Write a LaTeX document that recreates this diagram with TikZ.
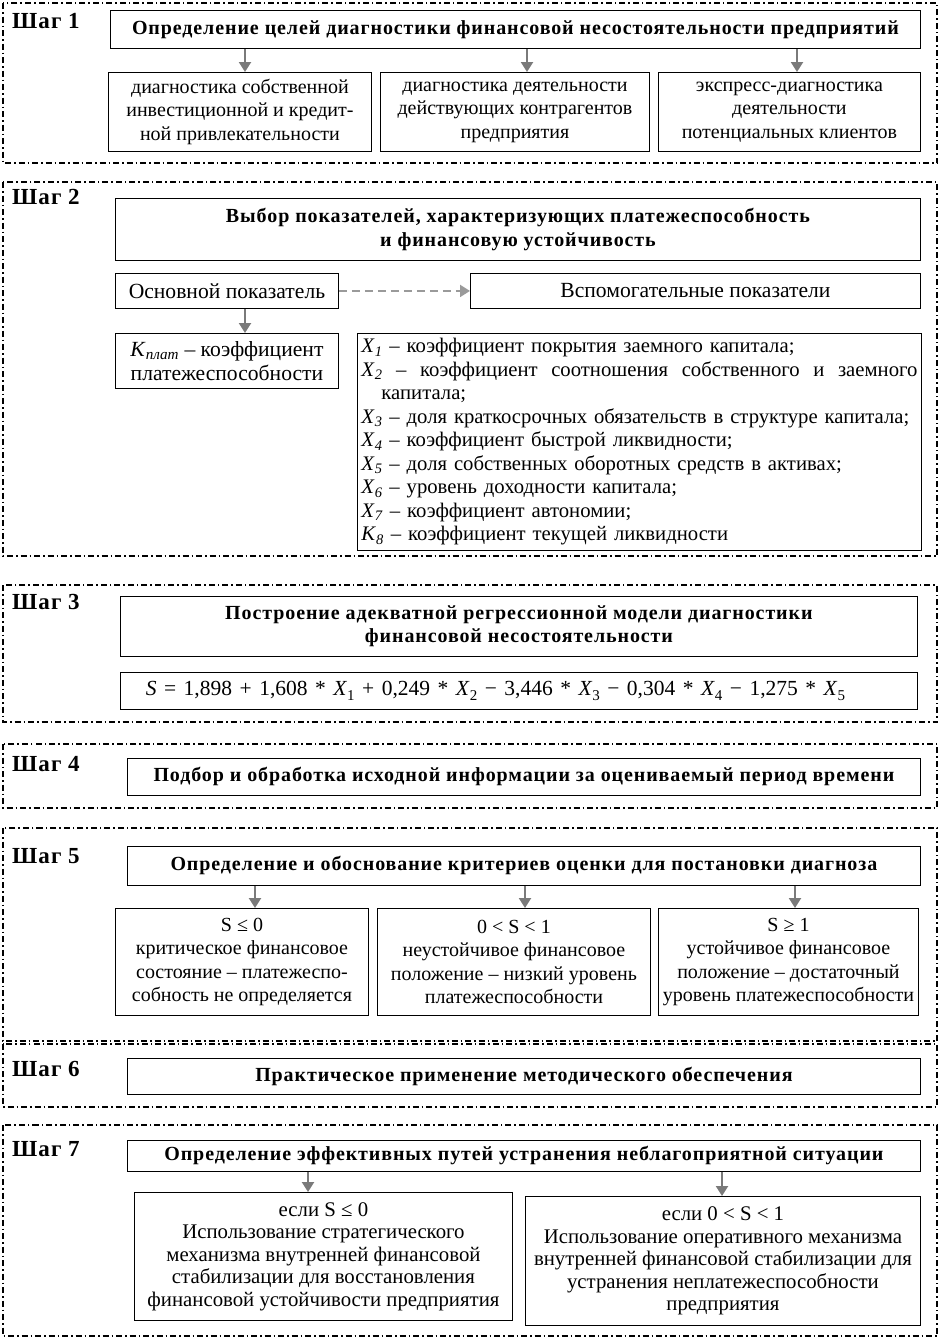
\documentclass[tikz,border=0pt]{standalone}
\usepackage{fontspec}
\setmainfont{Liberation Serif}
\newfontfamily\bsp[LetterSpace=4.5]{Liberation Serif}
\usetikzlibrary{arrows.meta}
\definecolor{arrgray}{HTML}{7A7A7A}
\definecolor{dashgray}{HTML}{9A9A9A}
\newcommand\vr[2]{\textit{#1}\textsubscript{\textit{#2}}}
\newcommand\fx[1]{\textit{X}\raisebox{-5pt}{\fontsize{15}{15}\selectfont #1}}
\newcommand\op[1]{\hspace{7.5pt}#1\hspace{7.5pt}}
\newcommand\hf{\hspace{0pt plus 1fill}}
\tikzset{
  frame/.style={draw, line width=1.2pt, dash pattern=on 6pt off 3pt on 1.5pt off 3pt},
  box/.style={draw, line width=0.9pt, anchor=north west, inner sep=0pt, align=center,
    font=\fontsize{20}{23.5}\selectfont},
  tbox/.style={box, font=\bsp\bfseries\fontsize{20}{23.5}\selectfont},
  mbox/.style={box, font=\fontsize{21.6}{23.5}\selectfont},
  lbl/.style={anchor=west, inner sep=0pt, font=\bsp\bfseries\fontsize{23}{24}\selectfont},
  arr/.style={draw=arrgray, line width=2.2pt, -{Triangle[width=12pt,length=10pt]}},
  darr/.style={draw=dashgray, line width=2pt, dash pattern=on 8pt off 5pt,
    -{Triangle[width=12pt,length=10pt]}},
}
\newcommand\bx[7][]{\node[box,minimum width={(#5-#3)*1pt},minimum height={(#6-#4)*1pt},#1] (#2) at (#3,#4) {#7};}
\begin{document}
\begin{tikzpicture}[x=1pt,y=-1pt]
\useasboundingbox (0,0) rectangle (940,1339);
% frames
\draw[frame] (3,3) rectangle (937,163);
\draw[frame] (3,182) rectangle (937,556);
\draw[frame] (3,585) rectangle (937,722);
\draw[frame] (3,744) rectangle (937,808);
\draw[frame] (3,828) rectangle (937,1041);
\draw[frame] (3,1044) rectangle (937,1107);
\draw[frame] (3,1125) rectangle (937,1336);
% labels
\node[lbl] (l1) at (12,21) {Шаг 1};
\node[lbl] (l2) at (12,197) {Шаг 2};
\node[lbl] (l3) at (12,602) {Шаг 3};
\node[lbl] (l4) at (12,764) {Шаг 4};
\node[lbl] (l5) at (12,856) {Шаг 5};
\node[lbl] (l6) at (12,1069) {Шаг 6};
\node[lbl] (l7) at (12,1149) {Шаг 7};
% step 1
\bx[tbox]{t1}{110}{10}{920}{48}{Определение целей диагностики финансовой несостоятельности предприятий}
\bx{a1}{108}{72}{371}{151}{диагностика собственной\\инвестиционной и кредит-\\ной привлекательности}
\bx{a2}{380}{72}{649}{151}{диагностика деятельности\\действующих контрагентов\\предприятия}
\bx{a3}{658}{72}{920}{151}{экспресс-диагностика\\деятельности\\потенциальных клиентов}
\draw[arr] (t1.south -| 245,0) -- (245,0 |- a1.north);
\draw[arr] (t1.south -| 527,0) -- (527,0 |- a2.north);
\draw[arr] (t1.south -| 797,0) -- (797,0 |- a3.north);
% step 2
\bx[tbox]{t2}{115}{198}{920}{260}{Выбор показателей, характеризующих платежеспособность\\и финансовую устойчивость}
\bx[mbox]{b1}{115}{273}{338}{308}{Основной показатель}
\bx[mbox]{b2}{470}{273}{920}{308}{Вспомогательные показатели}
\bx[mbox]{b3}{115}{333}{338}{388}{\vr{K}{плат} – коэффициент\\платежеспособности}
\bx[align=left,text width=556pt,inner xsep=4pt,font=\fontsize{20.7}{23.5}\selectfont]{b4}{357}{333}{921}{550}{%
\vr{X}{1} – коэффициент покрытия заемного капитала;\\
\leavevmode\hbox to 556pt{\vr{X}{2}\hf{} –\hf{} коэффициент\hf{} соотношения\hf{} собственного\hf{} и\hf{} заемного}\\
\hspace*{20pt}капитала;\\
\vr{X}{3} – доля краткосрочных обязательств в структуре капитала;\\
\vr{X}{4} – коэффициент быстрой ликвидности;\\
\vr{X}{5} – доля собственных оборотных средств в активах;\\
\vr{X}{6} – уровень доходности капитала;\\
\vr{X}{7} – коэффициент автономии;\\
\vr{K}{8} – коэффициент текущей ликвидности}
\draw[darr] (b1.east) -- (b2.west);
\draw[arr] (b1.south -| 245,0) -- (245,0 |- b3.north);
% step 3
\bx[tbox]{t3}{120}{596}{917}{656}{Построение адекватной регрессионной модели диагностики\\финансовой несостоятельности}
\bx[font=\fontsize{21.5}{23.5}\selectfont]{f3}{120}{672}{917}{709}{\textit{S}\op{=}1,898\op{+}1,608\op{*}\fx{1}\op{+}0,249\op{*}\fx{2}\op{−}3,446\op{*}\fx{3}\op{−}0,304\op{*}\fx{4}\op{−}1,275\op{*}\fx{5}\hspace*{47pt}}
% step 4
\bx[tbox]{t4}{127}{758}{920}{795}{Подбор и обработка исходной информации за оцениваемый период времени}
% step 5
\bx[tbox]{t5}{127}{846}{920}{885}{Определение и обоснование критериев оценки для постановки диагноза}
\bx{c1}{115}{908}{368}{1015}{S ≤ 0\\критическое финансовое\\состояние – платежеспо-\\собность не определяется}
\bx{c2}{377}{908}{650}{1015}{0 < S < 1\\неустойчивое финансовое\\положение – низкий уровень\\платежеспособности}
\bx{c3}{658}{908}{918}{1015}{S ≥ 1\\устойчивое финансовое\\положение – достаточный\\уровень платежеспособности}
\draw[arr] (t5.south -| 255,0) -- (255,0 |- c1.north);
\draw[arr] (t5.south -| 525,0) -- (525,0 |- c2.north);
\draw[arr] (t5.south -| 795,0) -- (795,0 |- c3.north);
% step 6
\bx[tbox]{t6}{127}{1058}{920}{1094}{Практическое применение методического обеспечения}
% step 7
\bx[tbox]{t7}{127}{1140}{920}{1171}{Определение эффективных путей устранения неблагоприятной ситуации}
\bx[font=\fontsize{20.8}{22.5}\selectfont]{d1}{134}{1192}{512}{1320}{если S ≤ 0\\Использование стратегического\\механизма внутренней финансовой\\стабилизации для восстановления\\финансовой устойчивости предприятия}
\bx[font=\fontsize{20.8}{22.5}\selectfont]{d2}{525}{1196}{920}{1325}{если 0 < S < 1\\Использование оперативного механизма\\внутренней финансовой стабилизации для\\устранения неплатежеспособности\\предприятия}
\draw[arr] (t7.south -| 308,0) -- (308,0 |- d1.north);
\draw[arr] (t7.south -| 722,0) -- (722,0 |- d2.north);
\end{tikzpicture}
\end{document}
